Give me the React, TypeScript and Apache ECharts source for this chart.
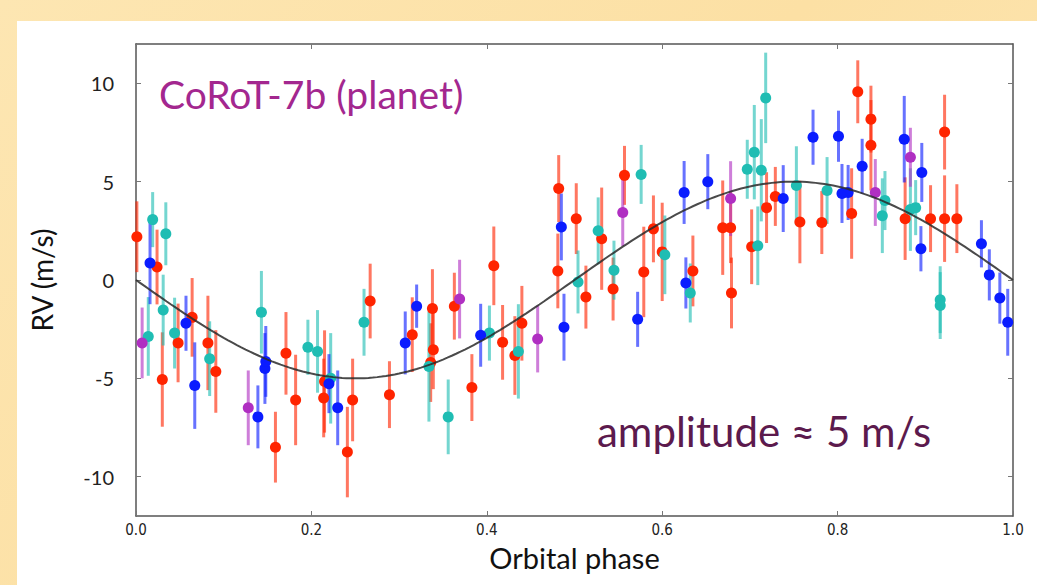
import React, { useEffect, useRef } from "react";
import * as echarts from "echarts";

// ---- data: [orbital phase, RV (m/s), error (m/s)] ----
const RED_POINTS: number[][] = [
  [0.001, 2.2, 1.8], [0.024, 0.66, 1.9], [0.03, -5.06, 2.4], [0.048, -3.2, 2.0],
  [0.064, -1.9, 2.0], [0.082, -3.2, 2.4], [0.091, -4.65, 2.1], [0.159, -8.5, 1.8],
  [0.171, -3.73, 2.1], [0.182, -6.1, 2.3], [0.214, -6.0, 2.0], [0.215, -5.16, 2.6],
  [0.241, -8.75, 2.3], [0.247, -6.1, 2.1], [0.267, -1.07, 1.9], [0.289, -5.83, 1.7],
  [0.315, -2.78, 1.9], [0.336, -4.2, 2.0], [0.338, -1.45, 2.0], [0.339, -3.55, 2.0],
  [0.363, -1.33, 1.7], [0.383, -5.47, 1.7], [0.408, 0.72, 2.0], [0.418, -3.17, 1.9],
  [0.432, -3.84, 2.0], [0.44, -2.2, 1.9], [0.481, 0.46, 1.9], [0.482, 4.65, 1.7],
  [0.502, 3.12, 1.8], [0.513, -0.87, 1.6], [0.531, 2.1, 2.6], [0.544, -0.46, 1.6],
  [0.557, 5.32, 1.5], [0.579, 0.41, 2.3], [0.59, 2.6, 1.7], [0.6, 1.43, 2.5],
  [0.635, 0.46, 1.8], [0.669, 2.66, 2.4], [0.678, 2.66, 1.8], [0.679, -0.66, 1.8],
  [0.702, 1.69, 1.9], [0.719, 3.68, 1.8], [0.729, 4.25, 1.5], [0.757, 2.95, 2.1],
  [0.782, 2.92, 1.6], [0.816, 3.38, 2.3], [0.823, 9.57, 1.6], [0.838, 8.18, 1.7],
  [0.838, 6.85, 2.3], [0.877, 3.12, 2.1], [0.906, 3.12, 1.7], [0.922, 7.52, 1.9],
  [0.922, 3.12, 2.2], [0.936, 3.12, 1.75],
];
const BLUE_POINTS: number[][] = [
  [0.016, 0.87, 2.1], [0.057, -2.2, 1.4], [0.067, -5.37, 2.2], [0.139, -6.96, 1.6],
  [0.147, -4.5, 1.8], [0.148, -4.14, 1.8], [0.22, -5.27, 1.5], [0.23, -6.5, 1.9],
  [0.307, -3.2, 1.6], [0.32, -1.33, 1.1], [0.393, -2.81, 1.6], [0.485, 2.7, 1.7],
  [0.488, -2.4, 1.7], [0.572, -2.0, 1.4], [0.625, 4.45, 1.6], [0.627, -0.15, 1.3],
  [0.652, 5.0, 1.4], [0.738, 4.14, 1.7], [0.772, 7.26, 1.4], [0.801, 7.31, 1.3],
  [0.805, 4.4, 1.5], [0.812, 4.45, 1.4], [0.828, 5.78, 1.4], [0.876, 7.16, 2.2],
  [0.895, 1.59, 1.15], [0.896, 5.47, 1.5], [0.964, 1.84, 1.2], [0.973, 0.26, 1.3],
  [0.985, -0.92, 1.3], [0.994, -2.15, 1.7],
];
const CYAN_POINTS: number[][] = [
  [0.014, -2.87, 2.0], [0.019, 3.07, 1.4], [0.031, -1.53, 1.8], [0.034, 2.35, 1.6],
  [0.044, -2.7, 1.8], [0.084, -4.0, 1.9], [0.143, -1.64, 2.1], [0.196, -3.42, 1.4],
  [0.207, -3.63, 2.1], [0.222, -5.0, 2.3], [0.26, -2.15, 1.7], [0.334, -4.4, 2.8],
  [0.356, -6.96, 1.9], [0.403, -2.7, 1.4], [0.436, -3.63, 2.4], [0.504, -0.1, 1.6],
  [0.527, 2.5, 1.7], [0.545, 0.5, 1.5], [0.576, 5.37, 1.5], [0.603, 1.28, 2.0],
  [0.632, -0.66, 1.5], [0.697, 5.63, 1.5], [0.705, 6.5, 2.4], [0.709, 1.74, 2.0],
  [0.713, 5.58, 2.6], [0.718, 9.26, 2.3], [0.753, 4.8, 2.0], [0.788, 4.55, 1.7],
  [0.851, 3.27, 1.9], [0.854, 4.04, 1.5], [0.883, 3.58, 2.1], [0.889, 3.68, 1.4],
  [0.917, -1.0, 1.7], [0.917, -1.3, 1.7],
];
const MAGENTA_POINTS: number[][] = [
  [0.007, -3.2, 1.8], [0.128, -6.5, 1.9], [0.369, -0.97, 2.0], [0.458, -3.0, 1.7],
  [0.555, 3.43, 1.7], [0.678, 4.14, 1.9], [0.843, 4.45, 1.7], [0.883, 6.24, 1.5],
];

const X_TICKS = [0, 0.2, 0.4, 0.6, 0.8, 1.0];
const Y_TICKS = [-10, -5, 0, 5, 10];
const X_RANGE = [0, 1];
const Y_RANGE = [-12, 12];
const AMPLITUDE = 5; // m/s, fitted circular orbit
const MODEL_SAMPLES = 200;

const TITLE_TEXT = "CoRoT-7b (planet)";
const AMP_TEXT = "amplitude \u2248 5 m/s";

const FONT = "Lato, 'Open Sans', 'DejaVu Sans', sans-serif";

function modelCurve(): number[][] {
  const out: number[][] = [];
  for (let i = 0; i <= MODEL_SAMPLES; i++) {
    const p = i / MODEL_SAMPLES;
    out.push([p, -AMPLITUDE * Math.sin(2 * Math.PI * p)]);
  }
  return out;
}

function errorSeries(data: number[][], color: string) {
  return {
    type: "custom",
    silent: true,
    z: 2,
    data: data.map((d) => [d[0], d[1] - d[2], d[1] + d[2]]),
    encode: { x: 0, y: [1, 2] },
    renderItem: (_params: any, api: any) => {
      const lo = api.coord([api.value(0), api.value(1)]);
      const hi = api.coord([api.value(0), api.value(2)]);
      return {
        type: "line",
        shape: { x1: lo[0], y1: lo[1], x2: hi[0], y2: hi[1] },
        style: { stroke: color, lineWidth: 3, opacity: 0.62 },
      };
    },
  };
}

function pointSeries(data: number[][], color: string) {
  return {
    type: "scatter",
    silent: true,
    z: 3,
    symbol: "circle",
    symbolSize: 11,
    data: data.map((d) => [d[0], d[1]]),
    itemStyle: { color, opacity: 1 },
  };
}

const GROUPS = [
  { data: RED_POINTS, color: "#ff2400" },
  { data: CYAN_POINTS, color: "#1fbdb3" },
  { data: BLUE_POINTS, color: "#0a1cff" },
  { data: MAGENTA_POINTS, color: "#b02fc2" },
];

export default function App() {
  const ref = useRef<HTMLDivElement>(null);
  useEffect(() => {
    if (!ref.current) return;
    const chart = echarts.init(ref.current, undefined, { renderer: "svg" });
    const axisLineStyle = { color: "#555", width: 1.5 };
    const tickStyle = { color: "#777", width: 1 };
    const series: any[] = [];
    GROUPS.forEach((g) => series.push(errorSeries(g.data, g.color)));
    GROUPS.forEach((g) => series.push(pointSeries(g.data, g.color)));
    series.push({
      type: "line",
      silent: true,
      z: 4,
      showSymbol: false,
      data: modelCurve(),
      lineStyle: { color: "#2a2a2a", width: 2, opacity: 0.85 },
    });
    chart.setOption({
      animation: false,
      backgroundColor: "transparent",
      grid: { left: 136, top: 44, right: 24, bottom: 69, show: false },
      xAxis: [
        {
          type: "value",
          min: X_RANGE[0],
          max: X_RANGE[1],
          interval: 0.2,
          position: "bottom",
          axisLine: { show: true, onZero: false, lineStyle: axisLineStyle },
          axisTick: { show: true, inside: true, length: 5, lineStyle: tickStyle, customValues: X_TICKS },
          axisLabel: {
            customValues: X_TICKS,
            formatter: (v: number) => v.toFixed(1),
            color: "#222",
            fontSize: 15,
            margin: 6,
            fontFamily: "'Liberation Sans Narrow', 'DejaVu Sans Condensed', 'Roboto Condensed', sans-serif",
          },
          splitLine: { show: false },
          name: "Orbital phase",
          nameLocation: "middle",
          nameGap: 27,
          nameTextStyle: { fontSize: 29, color: "#111", fontFamily: FONT },
        },
        {
          type: "value",
          min: X_RANGE[0],
          max: X_RANGE[1],
          interval: 0.2,
          position: "top",
          axisLine: { show: true, onZero: false, lineStyle: axisLineStyle },
          axisTick: { show: true, inside: true, length: 5, lineStyle: tickStyle, customValues: X_TICKS },
          axisLabel: { show: false },
          splitLine: { show: false },
        },
      ],
      yAxis: [
        {
          type: "value",
          min: Y_RANGE[0],
          max: Y_RANGE[1],
          position: "left",
          axisLine: { show: true, onZero: false, lineStyle: axisLineStyle },
          axisTick: { show: true, inside: true, length: 5, lineStyle: tickStyle, customValues: Y_TICKS },
          axisLabel: {
            customValues: Y_TICKS,
            color: "#222",
            fontSize: 20,
            margin: 22,
            fontFamily: FONT,
          },
          splitLine: { show: false },
          name: "RV (m/s)",
          nameLocation: "middle",
          nameGap: 80,
          nameTextStyle: { fontSize: 28, color: "#111", fontFamily: FONT },
        },
        {
          type: "value",
          min: Y_RANGE[0],
          max: Y_RANGE[1],
          position: "right",
          axisLine: { show: true, onZero: false, lineStyle: axisLineStyle },
          axisTick: { show: true, inside: true, length: 5, lineStyle: tickStyle, customValues: Y_TICKS },
          axisLabel: { show: false },
          splitLine: { show: false },
        },
      ],
      graphic: [
        {
          type: "text",
          left: 159,
          top: 74,
          style: { text: TITLE_TEXT, fill: "#a3278f", fontSize: 39, fontFamily: FONT },
          z: 10,
        },
        {
          type: "text",
          left: 597,
          top: 410,
          style: { text: AMP_TEXT, fill: "#5c1a4d", fontSize: 42, fontFamily: FONT },
          z: 10,
        },
      ],
      series,
    });
    return () => chart.dispose();
  }, []);

  return (
    <div
      style={{
        position: "fixed",
        left: 0,
        top: 0,
        width: 1037,
        height: 585,
        background: "linear-gradient(135deg, #fde6b2 0%, #fce0a4 50%, #fde7b6 100%)",
        overflow: "hidden",
      }}
    >
      <div style={{ position: "absolute", left: 17, top: 21, right: 0, bottom: 0, background: "#ffffff" }} />
      <div ref={ref} style={{ position: "absolute", left: 0, top: 0, width: 1037, height: 585 }} />
    </div>
  );
}
